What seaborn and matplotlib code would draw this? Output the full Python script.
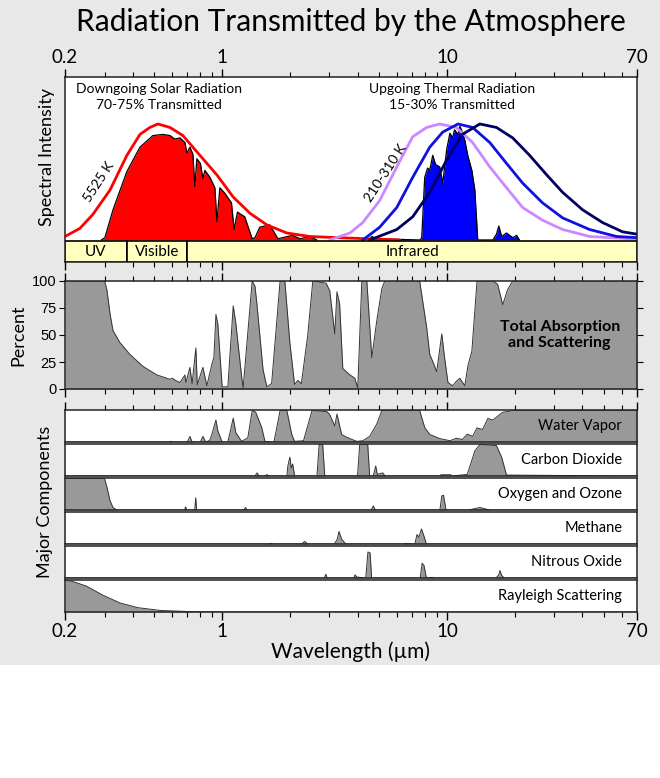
import numpy as np
import matplotlib
matplotlib.use("Agg")
import matplotlib.pyplot as plt
import matplotlib.ticker as mticker
from matplotlib.patches import Rectangle
import seaborn as sns

# ---- data (wavelength in micrometres) ----
# top panel: normalised spectral intensity
solar_bb_lam = [0.2, 0.233, 0.266, 0.317, 0.377, 0.431, 0.477, 0.518, 0.586, 0.669, 0.796,
                0.948, 1.12, 1.33, 1.58, 1.94, 2.45, 3.24, 4.5, 6.16]
solar_bb_val = [0.03, 0.10, 0.22, 0.43, 0.73, 0.91, 0.97, 1.0, 0.97, 0.90, 0.73,
                0.56, 0.37, 0.23, 0.13, 0.06, 0.03, 0.02, 0.01, 0.0]

solar_tr_lam = [0.29, 0.301, 0.327, 0.377, 0.431, 0.492, 0.545, 0.586, 0.616, 0.649, 0.683,
                0.697, 0.719, 0.741, 0.756, 0.772, 0.80, 0.821, 0.838, 0.882, 0.928, 0.948,
                0.977, 1.03, 1.10, 1.13, 1.17, 1.26, 1.36, 1.40, 1.47, 1.63, 1.77, 1.86,
                2.06, 2.22, 2.45, 2.64]
solar_tr_val = [0.0, 0.02, 0.26, 0.59, 0.80, 0.90, 0.91, 0.90, 0.87, 0.88, 0.84,
                0.75, 0.80, 0.74, 0.46, 0.70, 0.66, 0.53, 0.60, 0.54, 0.45, 0.16,
                0.45, 0.40, 0.32, 0.09, 0.24, 0.20, 0.01, 0.02, 0.11, 0.13, 0.01, 0.02,
                0.04, 0.01, 0.03, 0.0]

bb_210_lam = [3.01, 3.70, 4.22, 5.02, 5.98, 7.04, 8.12, 9.28, 11.0, 13.0, 15.5, 18.4,
              21.7, 26.6, 32.7, 43.1, 64.9, 70]
bb_210_val = [0.0, 0.06, 0.15, 0.34, 0.63, 0.89, 0.97, 1.0, 0.97, 0.84, 0.63, 0.45,
              0.28, 0.17, 0.09, 0.03, 0.01, 0.01]

bb_260_lam = [4.22, 5.02, 5.98, 7.04, 8.38, 9.57, 11.2, 13.0, 15.5, 18.4, 21.7, 26.6,
              32.7, 43.1, 56.8, 70]
bb_260_val = [0.0, 0.11, 0.28, 0.54, 0.80, 0.93, 1.0, 0.97, 0.84, 0.66, 0.49, 0.32,
              0.19, 0.09, 0.03, 0.02]

bb_310_lam = [4.53, 5.98, 7.04, 8.38, 9.97, 11.7, 14.0, 16.6, 19.6, 23.3, 27.8, 32.7,
              40.1, 49.2, 60.4, 70]
bb_310_val = [0.0, 0.09, 0.20, 0.41, 0.69, 0.91, 1.0, 0.97, 0.88, 0.73, 0.56, 0.41,
              0.26, 0.15, 0.07, 0.05]

thermal_tr_lam = [4.5, 4.63, 4.87, 7.6, 7.72, 7.96, 8.2, 8.38, 8.64, 8.9, 9.28, 9.57,
                  9.97, 10.3, 10.6, 10.8, 11.2, 11.4, 11.6, 12.0, 12.4, 12.9, 13.3, 13.7,
                  16.0, 16.6, 17.0, 17.5, 18.4, 19.6, 20.4, 21.0]
thermal_tr_val = [0.0, 0.03, 0.01, 0.0, 0.02, 0.54, 0.62, 0.60, 0.73, 0.65, 0.63, 0.49,
                  0.78, 0.92, 0.88, 0.95, 0.91, 0.98, 0.95, 0.86, 0.72, 0.60, 0.43, 0.0,
                  0.0, 0.05, 0.12, 0.03, 0.06, 0.02, 0.04, 0.0]

band_names = ["UV", "Visible", "Infrared"]
band_edges = [0.2, 0.377, 0.70, 70]
band_label_x = [0.274, 0.514, 7.0]

# middle panel: total absorption and scattering (percent)
total_lam = [0.2, 0.30, 0.307, 0.317, 0.327, 0.351, 0.389, 0.444, 0.513, 0.586, 0.60, 0.62,
             0.649, 0.683, 0.690, 0.719, 0.735, 0.764, 0.775, 0.821, 0.855, 0.900, 0.919,
             0.938, 0.957, 1.0, 1.06, 1.12, 1.15, 1.22, 1.24, 1.36, 1.40, 1.43, 1.52, 1.58,
             1.66, 1.81, 1.90, 2.0, 2.10, 2.17, 2.25, 2.40, 2.53, 2.9, 3.01, 3.17, 3.24,
             3.33, 3.44, 3.70, 3.89, 4.01, 4.18, 4.40, 4.63, 4.87, 5.13, 5.29, 7.56, 8.12,
             8.38, 8.7, 9.00, 9.48, 9.77, 10.1, 10.6, 11.0, 11.4, 12.0, 12.4, 12.9, 13.6,
             16.0, 16.8, 17.7, 18.6, 19.6, 70]
total_val = [100, 100, 92, 70, 54, 43, 32, 21, 13, 9, 10, 8,
             6, 13, 6, 20, 5, 38, 4, 20, 3, 23, 29,
             69, 60, 2, 2, 77, 61, 12, 1, 100, 95, 77, 18, 2,
             5, 100, 100, 43, 4, 8, 5, 49, 100, 98, 91, 51, 90,
             79, 19, 13, 10, 1, 100, 100, 29, 63, 93, 100, 100, 57,
             32, 24, 16, 51, 28, 6, 3, 7, 10, 3, 22, 35, 100,
             100, 97, 78, 92, 100, 100]

# lower panels: fractional absorption per component
water_lam = [0.2, 0.58, 0.59, 0.60, 0.70, 0.719, 0.735, 0.80, 0.821, 0.845, 0.88, 0.900,
             0.938, 0.957, 1.0, 1.06, 1.12, 1.15, 1.22, 1.30, 1.36, 1.41, 1.50, 1.55, 1.70,
             1.81, 1.94, 2.04, 2.10, 2.30, 2.51, 2.92, 3.0, 3.17, 3.24, 3.40, 3.58, 3.97,
             4.22, 4.53, 4.87, 5.13, 7.56, 7.96, 8.38, 9.28, 10.3, 11.0, 11.7, 12.3, 13.0,
             13.6, 14.4, 15.2, 16.0, 17.7, 19.6, 70]
water_val = [0, 0, 0.02, 0, 0, 0.18, 0, 0, 0.18, 0, 0.05, 0.24,
             0.70, 0.35, 0, 0, 0.76, 0.30, 0.02, 0.13, 1.0, 0.95, 0.46, 0.02, 0,
             1.0, 1.0, 0.24, 0.02, 0.04, 1.0, 0.97, 0.89, 0.51, 0.89, 0.24, 0.15, 0.02,
             0.04, 0.18, 0.57, 1.0, 1.0, 0.46, 0.24, 0.11, 0.04, 0.12, 0.08, 0.25, 0.18,
             0.45, 0.40, 0.75, 0.70, 0.95, 1.0, 1.0]

co2_lam = [0.2, 1.40, 1.43, 1.46, 1.56, 1.58, 1.60, 1.94, 1.96, 2.0, 2.03, 2.06, 2.10,
           2.64, 2.70, 2.80, 2.86, 4.0, 4.09, 4.44, 4.53, 4.70, 4.82, 4.90, 5.18, 5.3,
           9.3, 9.4, 10.4, 10.5, 12.3, 12.9, 13.3, 14.0, 16.6, 17.5, 18.4, 70]
co2_val = [0, 0, 0.1, 0, 0, 0.05, 0, 0, 0.32, 0.6, 0.25, 0.38, 0,
           0, 1.0, 1.0, 0, 0, 1.0, 1.0, 0, 0, 0.32, 0.05, 0.1, 0,
           0, 0.04, 0.04, 0, 0.05, 0.5, 0.8, 1.0, 0.97, 0.6, 0.03, 0]

o2o3_lam = [0.2, 0.30, 0.307, 0.317, 0.327, 0.34, 0.68, 0.688, 0.695, 0.755, 0.763, 0.770,
            1.25, 1.27, 1.29, 4.6, 4.70, 4.80, 9.3, 9.48, 9.65, 9.9, 12.5, 14.0, 15.5, 70]
o2o3_val = [1.0, 1.0, 0.74, 0.30, 0.08, 0, 0, 0.10, 0, 0, 0.39, 0,
            0, 0.08, 0, 0, 0.13, 0, 0, 0.45, 0.47, 0, 0, 0.08, 0, 0]

ch4_lam = [0.2, 1.6, 1.65, 1.70, 2.25, 2.33, 2.40, 3.15, 3.25, 3.31, 3.40, 3.55, 6.4, 6.5,
           7.2, 7.35, 7.5, 7.7, 7.9, 8.1, 70]
ch4_val = [0, 0, 0.02, 0, 0, 0.08, 0, 0, 0.15, 0.40, 0.15, 0, 0, 0.02,
           0, 0.30, 0.22, 0.48, 0.25, 0, 0]

n2o_lam = [0.2, 2.85, 2.89, 2.93, 3.85, 3.90, 3.97, 4.35, 4.45, 4.55, 4.62, 7.6, 7.75, 7.9,
           8.1, 8.6, 8.8, 16.5, 17.0, 17.2, 17.5, 18, 70]
n2o_val = [0, 0, 0.12, 0, 0, 0.10, 0.03, 0, 0.83, 0.80, 0, 0, 0.47, 0.40,
           0, 0.02, 0, 0, 0.10, 0.24, 0.08, 0, 0]

rayleigh_lam = [0.2, 0.215, 0.250, 0.294, 0.351, 0.42, 0.529, 0.741, 1.0, 70]
rayleigh_val = [1.0, 0.98, 0.82, 0.54, 0.29, 0.14, 0.05, 0.01, 0.0, 0.0]

components = [("Water Vapor", water_lam, water_val),
              ("Carbon Dioxide", co2_lam, co2_val),
              ("Oxygen and Ozone", o2o3_lam, o2o3_val),
              ("Methane", ch4_lam, ch4_val),
              ("Nitrous Oxide", n2o_lam, n2o_val),
              ("Rayleigh Scattering", rayleigh_lam, rayleigh_val)]

major_ticks = [0.2, 1, 10, 70]
minor_ticks = [0.3, 0.4, 0.5, 0.6, 0.7, 0.8, 0.9, 2, 3, 4, 5, 6, 7, 8, 9,
               20, 30, 40, 50, 60]

sns.set_style("ticks")
plt.rcParams['font.family'] = ['Lato', 'DejaVu Sans']
plt.rcParams['text.color'] = 'black'
plt.rcParams['xtick.color'] = 'black'
plt.rcParams['ytick.color'] = 'black'

W, H = 660, 778
fig = plt.figure(figsize=(W / 100, H / 100), dpi=100, facecolor="#e8e8e8")
fig.patches.append(Rectangle((0, 0), 1, (H - 665) / H, transform=fig.transFigure,
                             facecolor="white", edgecolor="none", zorder=0))


def box(top, bottom):
    # pixel rows -> figure fraction
    return [65 / W, 1 - bottom / H, (637 - 65) / W, (bottom - top) / H]


def setup_x(ax, top=False, bottom=False, labeltop=False, labelbottom=False):
    ax.set_xscale("log")
    ax.set_xlim(0.2, 70)
    ax.xaxis.set_major_locator(mticker.FixedLocator(major_ticks))
    ax.xaxis.set_minor_locator(mticker.FixedLocator(minor_ticks))
    ax.xaxis.set_major_formatter(mticker.FixedFormatter(["0.2", "1", "10", "70"]))
    ax.xaxis.set_minor_formatter(mticker.NullFormatter())
    ax.tick_params(axis="x", which="major", length=6, width=1, direction="out",
                   top=top, bottom=bottom, labeltop=labeltop, labelbottom=labelbottom,
                   labelsize=13.5, pad=2)
    ax.tick_params(axis="x", which="minor", length=3.5, width=0.8, direction="out",
                   top=top, bottom=bottom)
    for s in ax.spines.values():
        s.set_visible(True)
        s.set_linewidth(1.1)
        s.set_color("#222222")
    ax.set_xlabel("")
    ax.set_ylabel("")


# ---- top panel ----
ax1 = fig.add_axes(box(77, 262))
ax1.set_facecolor("white")
ax1.fill_between(solar_tr_lam, 0, solar_tr_val, color="#ff0000", lw=0)
sns.lineplot(x=solar_tr_lam, y=solar_tr_val, ax=ax1, color="black", lw=0.9,
             estimator=None, sort=False)
ax1.fill_between(thermal_tr_lam, 0, thermal_tr_val, color="#0000ff", lw=0)
sns.lineplot(x=thermal_tr_lam, y=thermal_tr_val, ax=ax1, color="black", lw=0.9,
             estimator=None, sort=False)
sns.lineplot(x=solar_bb_lam, y=solar_bb_val, ax=ax1, color="#ff0000", lw=2,
             estimator=None, sort=False)
sns.lineplot(x=bb_210_lam, y=bb_210_val, ax=ax1, color="#cc88ff", lw=2,
             estimator=None, sort=False)
sns.lineplot(x=bb_260_lam, y=bb_260_val, ax=ax1, color="#1010e0", lw=2,
             estimator=None, sort=False)
sns.lineplot(x=bb_310_lam, y=bb_310_val, ax=ax1, color="#000060", lw=2,
             estimator=None, sort=False)

lefts = band_edges[:-1]
widths = [b - a for a, b in zip(band_edges[:-1], band_edges[1:])]
ax1.barh([-0.10] * 3, widths, left=lefts, height=0.175, color="#ffffc0",
         edgecolor="black", linewidth=1.2, align="center", zorder=3)
for name, xpos in zip(band_names, band_label_x):
    ax1.text(xpos, -0.10, name, ha="center", va="center", fontsize=11, zorder=4)

ax1.set_ylim(-0.19, 1.405)
ax1.set_yticks([])
setup_x(ax1, top=True, bottom=True, labeltop=True)
ax1.text(0.523, 1.23, "Downgoing Solar Radiation\n70-75% Transmitted", ha="center",
         va="center", fontsize=10, linespacing=1.4)
ax1.text(10.5, 1.23, "Upgoing Thermal Radiation\n15-30% Transmitted", ha="center",
         va="center", fontsize=10, linespacing=1.4)
ax1.text(0.283, 0.50, "5525 K", rotation=57, ha="center", va="center", fontsize=10)
ax1.text(5.34, 0.58, "210-310 K", rotation=57, ha="center", va="center", fontsize=10)

# ---- middle panel ----
ax2 = fig.add_axes(box(281, 389))
ax2.set_facecolor("white")
ax2.fill_between(total_lam, 0, total_val, color="#999999", lw=0)
sns.lineplot(x=total_lam, y=total_val, ax=ax2, color="#333333", lw=0.7,
             estimator=None, sort=False)
ax2.set_ylim(0, 100)
setup_x(ax2, top=True, bottom=True)
ax2.set_yticks([0, 25, 50, 75, 100])
ax2.tick_params(axis="y", left=True, right=True, length=4, direction="out",
                labelsize=10.5, pad=2)
for lbl in ax2.get_yticklabels():
    lbl.set_family(["Liberation Sans", "DejaVu Sans"])
ax2.text(31.7, 50, "Total Absorption\nand Scattering", ha="center", va="center",
         fontsize=11.5, fontweight="bold", linespacing=1.2)

# ---- component strips ----
strip_rows = [(410, 442), (444, 476), (478, 510), (512, 544), (546, 578), (580, 612)]
for i, ((name, lam, val), (t, b)) in enumerate(zip(components, strip_rows)):
    ax = fig.add_axes(box(t, b))
    ax.set_facecolor("white")
    ax.fill_between(lam, 0, val, color="#999999", lw=0)
    sns.lineplot(x=lam, y=val, ax=ax, color="#333333", lw=0.7,
                 estimator=None, sort=False)
    ax.set_ylim(0, 1.02)
    ax.set_yticks([])
    first = i == 0
    last = i == len(components) - 1
    setup_x(ax, top=first, bottom=last, labelbottom=last)
    ax.text(0.974, 0.5, name, transform=ax.transAxes, ha="right", va="center",
            fontsize=10.5)

# ---- figure labels ----
fig.text(0.532, 0.972, "Radiation Transmitted by the Atmosphere", ha="center",
         va="center", fontsize=21.5)
fig.text(0.531, 1 - 652 / H, "Wavelength (\u00b5m)", ha="center", va="center", fontsize=15)
fig.text(47 / W, 1 - 157 / H, "Spectral Intensity", rotation=90, ha="center",
         va="center", fontsize=13)
fig.text(18 / W, 1 - 335 / H, "Percent", rotation=90, ha="center", va="center",
         fontsize=13)
fig.text(45 / W, 1 - 502 / H, "Major Components", rotation=90, ha="center",
         va="center", fontsize=13)

fig.savefig("out.png", dpi=100, facecolor=fig.get_facecolor())
